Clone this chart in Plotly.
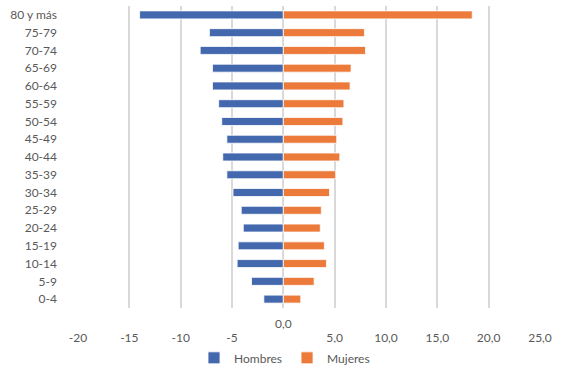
import plotly.graph_objects as go

categories = ["80 y más", "75-79", "70-74", "65-69", "60-64", "55-59", "50-54",
              "45-49", "40-44", "35-39", "30-34", "25-29", "20-24", "15-19",
              "10-14", "5-9", "0-4"]
hombres = [-14.0, -7.2, -8.1, -6.9, -6.9, -6.3, -6.0, -5.5, -5.9, -5.5, -4.9,
           -4.1, -3.9, -4.4, -4.5, -3.1, -1.9]
mujeres = [18.4, 7.9, 8.0, 6.6, 6.5, 5.9, 5.8, 5.2, 5.5, 5.1, 4.5, 3.7, 3.6,
           4.0, 4.2, 3.0, 1.7]
tick_vals = [-20, -15, -10, -5, 0, 5, 10, 15, 20, 25]
tick_text = ["-20", "-15", "-10", "-5", "", "5,0", "10,0", "15,0", "20,0", "25,0"]
zero_label = "0,0"

BLUE = "#4468AE"
ORANGE = "#EC7A3A"
GRID = "#D9D9D9"
TXT = "#595959"
FONT = "Lato, 'Open Sans', sans-serif"

fig = go.Figure()
fig.add_trace(go.Bar(y=categories, x=hombres, orientation="h", name="Hombres",
                     marker=dict(color=BLUE, line=dict(color="white", width=0.8))))
fig.add_trace(go.Bar(y=categories, x=mujeres, orientation="h", name="Mujeres",
                     marker=dict(color=ORANGE, line=dict(color="white", width=0.8))))

fig.add_annotation(x=0, xref="x", y=-0.05, yref="paper", text=zero_label,
                   showarrow=False, yanchor="middle", xanchor="center",
                   font=dict(family=FONT, size=12, color=TXT))

fig.update_layout(
    width=567, height=370,
    margin=dict(l=78, r=27, t=6, b=62, autoexpand=False),
    paper_bgcolor="white", plot_bgcolor="white",
    barmode="relative", bargap=0.55,
    font=dict(family=FONT, size=12, color=TXT),
    legend=dict(orientation="h", x=0.447, xanchor="center", y=-0.165,
                yanchor="middle", font=dict(size=12, color=TXT),
                itemwidth=30, tracegroupgap=0),
    xaxis=dict(range=[-20, 25], tickvals=tick_vals, ticktext=tick_text,
               showgrid=True, gridcolor=GRID, gridwidth=1.5,
               zeroline=True, zerolinecolor=GRID, zerolinewidth=1.5,
               showline=False, ticks="", ticklabelstandoff=21,
               tickfont=dict(size=12, color=TXT)),
    yaxis=dict(autorange="reversed", showgrid=False, zeroline=False,
               showline=False, ticks="", ticklabelstandoff=20,
               tickfont=dict(size=12, color=TXT)),
)

fig.write_html("out.html", config={"displayModeBar": False},
               post_script="document.body.style.margin='0';")
